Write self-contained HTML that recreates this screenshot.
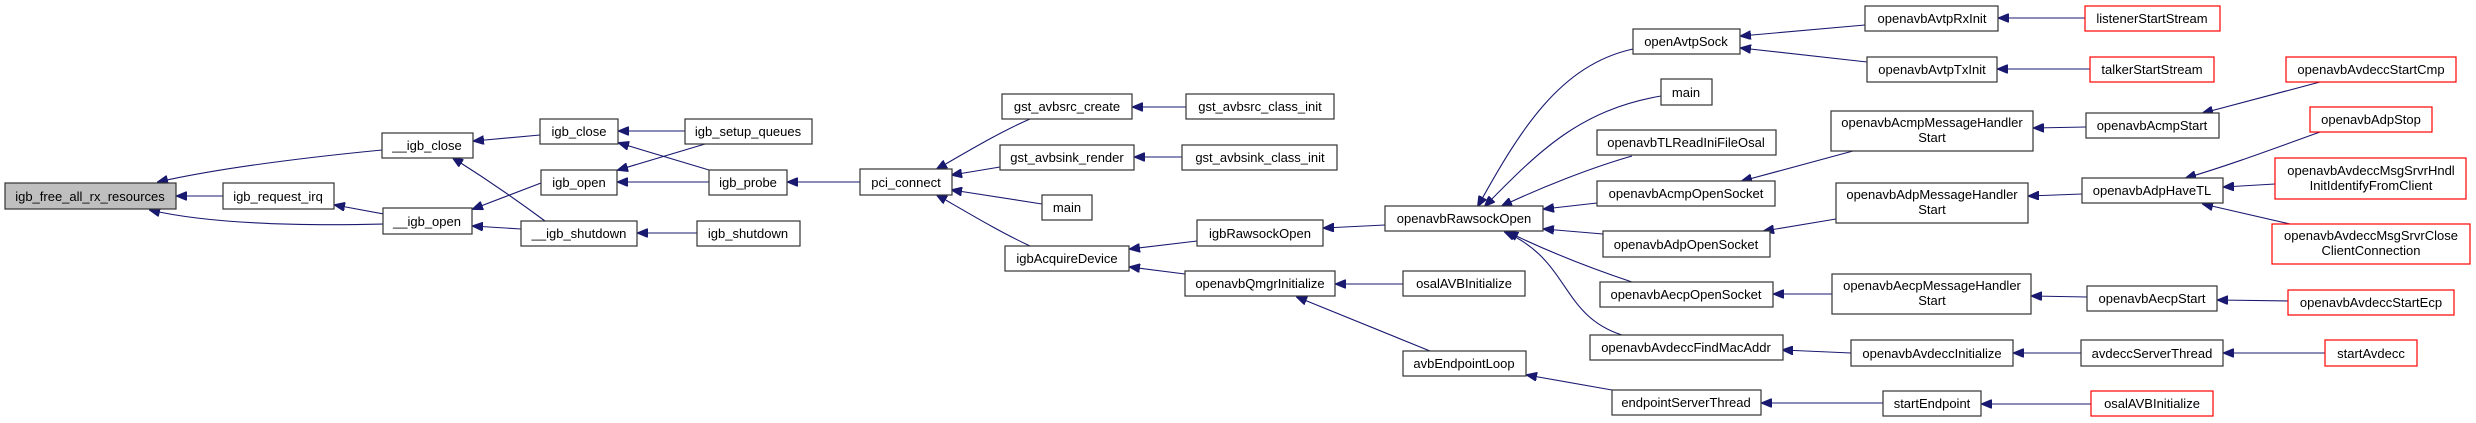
<!DOCTYPE html>
<html><head><meta charset="utf-8"><style>
html,body{margin:0;padding:0;background:#fff;}
svg{display:block;}
text{font-family:"Liberation Sans",sans-serif;font-size:13px;fill:#000;text-anchor:middle;}
.n{fill:#fff;stroke:#333;stroke-width:1.2;}
.g{fill:#bfbfbf;stroke:#333;stroke-width:1.2;}
.r{fill:#fff;stroke:#ff0000;stroke-width:1.2;}
.e{fill:none;stroke:#191970;stroke-width:1.1;marker-end:url(#a);}
</style></head><body>
<svg width="2476" height="423" viewBox="0 0 2476 423" xmlns="http://www.w3.org/2000/svg">
<defs><marker id="a" markerWidth="11" markerHeight="9" refX="10" refY="4.5" orient="auto" markerUnits="userSpaceOnUse"><path d="M0,0 L11,4.5 L0,9 z" fill="#191970" stroke="#191970"/></marker></defs>

<!-- edges -->
<path class="e" d="M223,196 L177,196"/>
<path class="e" d="M382,150 C300,158 220,168 158,182"/>
<path class="e" d="M384,224 C300,226 210,224 150,210"/>
<path class="e" d="M384,214 L335,205"/>
<path class="e" d="M540,135 L474,141"/>
<path class="e" d="M685,131 L619,131"/>
<path class="e" d="M709,170 L619,143"/>
<path class="e" d="M705,144 L618,170"/>
<path class="e" d="M709,182 L618,182"/>
<path class="e" d="M541,183 L473,209"/>
<path class="e" d="M521,229 L473,226"/>
<path class="e" d="M545,221 C510,195 480,175 453,158"/>
<path class="e" d="M697,233 L638,233"/>
<path class="e" d="M860,182 L788,182"/>
<path class="e" d="M1030,119 C1000,132 970,150 937,169"/>
<path class="e" d="M1000,167 L952,175"/>
<path class="e" d="M1042,204 L952,190"/>
<path class="e" d="M1030,246 C1000,232 970,214 937,195"/>
<path class="e" d="M1186,107 L1133,107"/>
<path class="e" d="M1182,157 L1135,157"/>
<path class="e" d="M1197,241 L1130,249"/>
<path class="e" d="M1185,274 L1130,267"/>
<path class="e" d="M1403,284 L1336,284"/>
<path class="e" d="M1430,351 L1297,297"/>
<path class="e" d="M1385,225 L1324,228"/>
<path class="e" d="M1612,390 L1527,375"/>
<path class="e" d="M1633,49 C1560,65 1520,130 1478,206"/>
<path class="e" d="M1661,96 C1580,110 1540,150 1485,206"/>
<path class="e" d="M1632,156 C1590,168 1540,188 1502,206"/>
<path class="e" d="M1597,203 L1544,209"/>
<path class="e" d="M1603,234 L1544,229"/>
<path class="e" d="M1632,282 C1590,268 1545,250 1508,232"/>
<path class="e" d="M1622,335 C1560,315 1570,260 1505,232"/>
<path class="e" d="M1865,25 L1741,36"/>
<path class="e" d="M1867,62 L1741,48"/>
<path class="e" d="M2085,18 L1999,18"/>
<path class="e" d="M2090,69 L1998,69"/>
<path class="e" d="M2320,82 L2203,113"/>
<path class="e" d="M2086,127 L2034,128"/>
<path class="e" d="M1853,151 L1742,181"/>
<path class="e" d="M2320,132 C2270,150 2230,165 2186,178"/>
<path class="e" d="M2275,184 L2224,187"/>
<path class="e" d="M2290,224 L2203,204"/>
<path class="e" d="M2082,194 L2029,196"/>
<path class="e" d="M1836,219 L1764,231"/>
<path class="e" d="M1832,294 L1774,294"/>
<path class="e" d="M2087,297 L2032,296"/>
<path class="e" d="M2288,301 L2218,300"/>
<path class="e" d="M1851,353 L1783,350"/>
<path class="e" d="M2081,353 L2014,353"/>
<path class="e" d="M2325,353 L2224,353"/>
<path class="e" d="M1883,403 L1762,403"/>
<path class="e" d="M2091,404 L1982,404"/>

<!-- nodes -->
<rect class="g" x="5" y="183" width="171" height="26"/><text x="90" y="201">igb_free_all_rx_resources</text>
<rect class="n" x="223" y="183" width="111" height="26"/><text x="278" y="201">igb_request_irq</text>
<rect class="n" x="382" y="133" width="91" height="25"/><text x="427" y="150">__igb_close</text>
<rect class="n" x="383" y="208" width="89" height="26"/><text x="427" y="226">__igb_open</text>
<rect class="n" x="540" y="119" width="78" height="25"/><text x="579" y="136">igb_close</text>
<rect class="n" x="685" y="119" width="127" height="25"/><text x="748" y="136">igb_setup_queues</text>
<rect class="n" x="541" y="170" width="76" height="25"/><text x="579" y="187">igb_open</text>
<rect class="n" x="709" y="170" width="78" height="25"/><text x="748" y="187">igb_probe</text>
<rect class="n" x="521" y="221" width="116" height="25"/><text x="579" y="238">__igb_shutdown</text>
<rect class="n" x="697" y="221" width="103" height="25"/><text x="748" y="238">igb_shutdown</text>
<rect class="n" x="860" y="169" width="92" height="26"/><text x="906" y="187">pci_connect</text>
<rect class="n" x="1002" y="94" width="130" height="25"/><text x="1067" y="111">gst_avbsrc_create</text>
<rect class="n" x="1186" y="94" width="148" height="25"/><text x="1260" y="111">gst_avbsrc_class_init</text>
<rect class="n" x="1000" y="145" width="134" height="25"/><text x="1067" y="162">gst_avbsink_render</text>
<rect class="n" x="1182" y="145" width="155" height="25"/><text x="1260" y="162">gst_avbsink_class_init</text>
<rect class="n" x="1042" y="195" width="50" height="25"/><text x="1067" y="212">main</text>
<rect class="n" x="1005" y="246" width="124" height="25"/><text x="1067" y="263">igbAcquireDevice</text>
<rect class="n" x="1197" y="220" width="126" height="26"/><text x="1260" y="238">igbRawsockOpen</text>
<rect class="n" x="1185" y="271" width="150" height="25"/><text x="1260" y="288">openavbQmgrInitialize</text>
<rect class="n" x="1403" y="271" width="122" height="25"/><text x="1464" y="288">osalAVBInitialize</text>
<rect class="n" x="1403" y="351" width="123" height="25"/><text x="1464" y="368">avbEndpointLoop</text>
<rect class="n" x="1385" y="206" width="158" height="25"/><text x="1464" y="223">openavbRawsockOpen</text>
<rect class="n" x="1633" y="29" width="107" height="25"/><text x="1686" y="46">openAvtpSock</text>
<rect class="n" x="1661" y="79" width="51" height="26"/><text x="1686" y="97">main</text>
<rect class="n" x="1597" y="130" width="179" height="25"/><text x="1686" y="147">openavbTLReadIniFileOsal</text>
<rect class="n" x="1597" y="181" width="178" height="25"/><text x="1686" y="198">openavbAcmpOpenSocket</text>
<rect class="n" x="1603" y="231" width="167" height="26"/><text x="1686" y="249">openavbAdpOpenSocket</text>
<rect class="n" x="1600" y="282" width="173" height="25"/><text x="1686" y="299">openavbAecpOpenSocket</text>
<rect class="n" x="1590" y="335" width="193" height="25"/><text x="1686" y="352">openavbAvdeccFindMacAddr</text>
<rect class="n" x="1612" y="390" width="149" height="25"/><text x="1686" y="407">endpointServerThread</text>
<rect class="n" x="1865" y="6" width="133" height="25"/><text x="1932" y="23">openavbAvtpRxInit</text>
<rect class="n" x="1867" y="57" width="130" height="25"/><text x="1932" y="74">openavbAvtpTxInit</text>
<rect class="n" x="1831" y="111" width="202" height="40"/><text x="1932" y="127">openavbAcmpMessageHandler</text><text x="1932" y="142">Start</text>
<rect class="n" x="1836" y="183" width="192" height="40"/><text x="1932" y="199">openavbAdpMessageHandler</text><text x="1932" y="214">Start</text>
<rect class="n" x="1832" y="274" width="199" height="40"/><text x="1932" y="290">openavbAecpMessageHandler</text><text x="1932" y="305">Start</text>
<rect class="n" x="1851" y="340" width="162" height="26"/><text x="1932" y="358">openavbAvdeccInitialize</text>
<rect class="n" x="1883" y="391" width="98" height="25"/><text x="1932" y="408">startEndpoint</text>
<rect class="r" x="2085" y="6" width="135" height="25"/><text x="2152" y="23">listenerStartStream</text>
<rect class="r" x="2090" y="57" width="124" height="25"/><text x="2152" y="74">talkerStartStream</text>
<rect class="n" x="2086" y="113" width="133" height="25"/><text x="2152" y="130">openavbAcmpStart</text>
<rect class="n" x="2082" y="178" width="141" height="25"/><text x="2152" y="195">openavbAdpHaveTL</text>
<rect class="n" x="2087" y="286" width="130" height="25"/><text x="2152" y="303">openavbAecpStart</text>
<rect class="n" x="2081" y="340" width="142" height="26"/><text x="2152" y="358">avdeccServerThread</text>
<rect class="r" x="2091" y="391" width="122" height="25"/><text x="2152" y="408">osalAVBInitialize</text>
<rect class="r" x="2286" y="57" width="170" height="25"/><text x="2371" y="74">openavbAvdeccStartCmp</text>
<rect class="r" x="2310" y="107" width="122" height="25"/><text x="2371" y="124">openavbAdpStop</text>
<rect class="r" x="2275" y="158" width="191" height="41"/><text x="2371" y="175">openavbAvdeccMsgSrvrHndl</text><text x="2371" y="190">InitIdentifyFromClient</text>
<rect class="r" x="2272" y="224" width="198" height="40"/><text x="2371" y="240">openavbAvdeccMsgSrvrClose</text><text x="2371" y="255">ClientConnection</text>
<rect class="r" x="2288" y="290" width="166" height="25"/><text x="2371" y="307">openavbAvdeccStartEcp</text>
<rect class="r" x="2325" y="340" width="92" height="26"/><text x="2371" y="358">startAvdecc</text>
</svg>
</body></html>
